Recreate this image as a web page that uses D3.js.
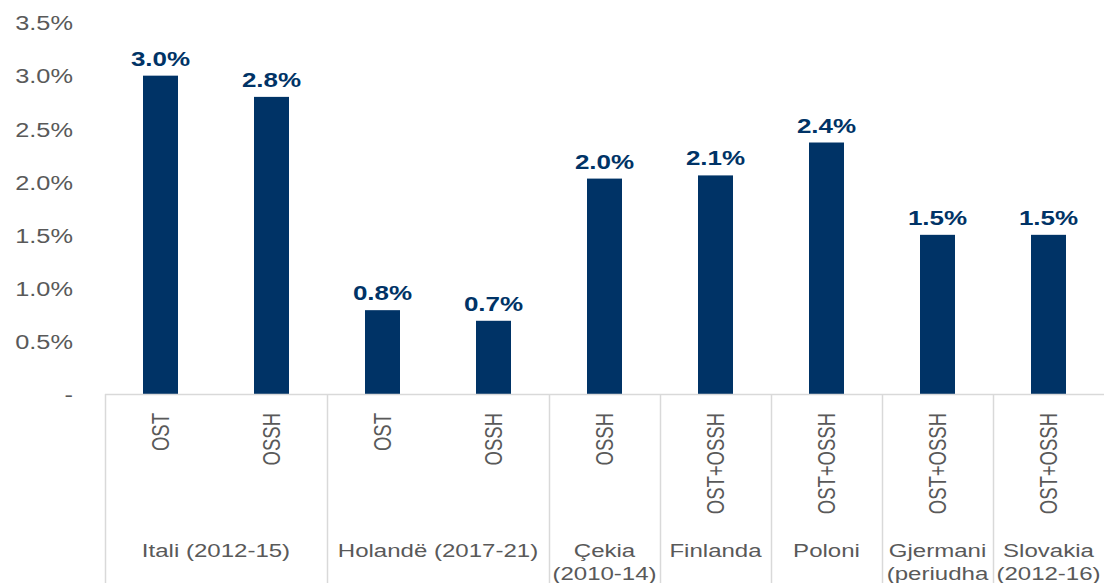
<!DOCTYPE html>
<html>
<head>
<meta charset="utf-8">
<script src="https://cdn.jsdelivr.net/npm/d3@7"></script>
<style>
  html, body { margin: 0; padding: 0; background: #fff; }
  svg { display: block; }
  text { font-family: "Liberation Sans", Arial, sans-serif; }
</style>
</head>
<body>
<svg id="chart" width="1104" height="583"></svg>
<script>
// ---- data ----
const subLabels = ["OST", "OSSH", "OST", "OSSH", "OSSH", "OST+OSSH", "OST+OSSH", "OST+OSSH", "OST+OSSH"];
const values = [3.0, 2.8, 0.79, 0.69, 2.03, 2.06, 2.37, 1.5, 1.5];
const dataLabels = ["3.0%", "2.8%", "0.8%", "0.7%", "2.0%", "2.1%", "2.4%", "1.5%", "1.5%"];
const groupNames = [["Itali (2012-15)"], ["Holandë (2017-21)"], ["Çekia", "(2010-14)"], ["Finlanda"], ["Poloni"], ["Gjermani", "(periudha"], ["Slovakia", "(2012-16)"]];
const groupSizes = [2, 2, 1, 1, 1, 1, 1];
const yTicks = [0, 0.5, 1.0, 1.5, 2.0, 2.5, 3.0, 3.5];
const yTickLabels = ["-", "0.5%", "1.0%", "1.5%", "2.0%", "2.5%", "3.0%", "3.5%"];

// ---- layout ----
const W = 1104, H = 583;
const left = 105, right = 1104, zeroY = 394, topY = 22.6;
const barColor = "#003366", textGray = "#595959", lineGray = "#d9d9d9";
const SX = 1.3; // horizontal stretch of text seen in reference

const svg = d3.select("#chart");
const x = d3.scaleBand().domain(d3.range(values.length)).range([left, right]).padding(0);
const y = d3.scaleLinear().domain([0, 3.5]).range([zeroY, topY]);
const barW = 35;

// y tick labels
svg.append("g").selectAll("text").data(yTicks).join("text")
  .attr("transform", d => `translate(73,${y(d) + 1}) scale(${SX},1)`)
  .attr("text-anchor", "end").attr("dy", "0.35em")
  .attr("font-size", 19.5).attr("fill", textGray)
  .text((d, i) => yTickLabels[i]);

// bars
svg.append("g").selectAll("rect").data(values).join("rect")
  .attr("x", (d, i) => x(i) + x.bandwidth() / 2 - barW / 2)
  .attr("width", barW)
  .attr("y", d => y(d))
  .attr("height", d => zeroY - y(d))
  .attr("fill", barColor);

// data labels
svg.append("g").selectAll("text").data(values).join("text")
  .attr("transform", (d, i) => `translate(${x(i) + x.bandwidth() / 2},${y(d) - 10}) scale(${SX},1)`)
  .attr("text-anchor", "middle")
  .attr("font-size", 20).attr("font-weight", "bold").attr("fill", barColor)
  .text((d, i) => dataLabels[i]);

// axis line
svg.append("line")
  .attr("x1", left).attr("x2", right).attr("y1", zeroY + 0.5).attr("y2", zeroY + 0.5)
  .attr("stroke", lineGray).attr("stroke-width", 1.5);

// group separators
let starts = [];
let acc = 0;
groupSizes.forEach(s => { starts.push(acc); acc += s; });
svg.append("g").selectAll("line").data(starts).join("line")
  .attr("x1", d => Math.round(x(d)) + 0.5).attr("x2", d => Math.round(x(d)) + 0.5)
  .attr("y1", zeroY).attr("y2", H)
  .attr("stroke", lineGray).attr("stroke-width", 1.5);

// rotated sub labels
svg.append("g").selectAll("text").data(subLabels).join("text")
  .attr("transform", (d, i) => `translate(${x(i) + x.bandwidth() / 2},413) scale(${SX},1) rotate(-90)`)
  .attr("text-anchor", "end").attr("dy", "0.36em")
  .attr("font-size", 18.5).attr("fill", textGray)
  .text(d => d);

// group labels
const gl = svg.append("g");
groupNames.forEach((lines, gi) => {
  const s = starts[gi], n = groupSizes[gi];
  const cx = x(s) + n * x.bandwidth() / 2;
  lines.forEach((ln, li) => {
    gl.append("text")
      .attr("transform", `translate(${cx},${557 + li * 23}) scale(${SX},1)`)
      .attr("text-anchor", "middle")
      .attr("font-size", 18.5).attr("fill", textGray)
      .text(ln);
  });
});
</script>
</body>
</html>
